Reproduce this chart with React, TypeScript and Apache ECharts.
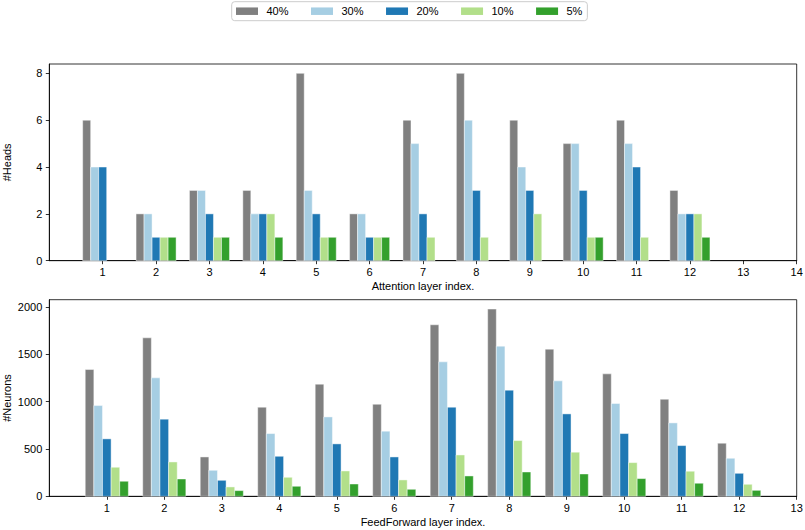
import React, { useEffect, useRef } from "react";
import * as echarts from "echarts";

const seriesNames = ["40%", "30%", "20%", "10%", "5%"];
const seriesColors = ["#808080", "#a6cee3", "#1f78b4", "#b2df8a", "#33a02c"];

const attentionLayers = [1, 2, 3, 4, 5, 6, 7, 8, 9, 10, 11, 12];
const attentionTicks = [1, 2, 3, 4, 5, 6, 7, 8, 9, 10, 11, 12, 13, 14];
const headsTicks = [0, 2, 4, 6, 8];
const heads40 = [6, 2, 3, 3, 8, 2, 6, 8, 6, 5, 6, 3];
const heads30 = [4, 2, 3, 2, 3, 2, 5, 6, 4, 5, 5, 2];
const heads20 = [4, 1, 2, 2, 2, 1, 2, 3, 3, 3, 4, 2];
const heads10 = [0, 1, 1, 2, 1, 1, 1, 1, 2, 1, 1, 2];
const heads5 = [0, 1, 1, 1, 1, 1, 0, 0, 0, 1, 0, 1];

const ffnLayers = [1, 2, 3, 4, 5, 6, 7, 8, 9, 10, 11, 12];
const ffnTicks = [1, 2, 3, 4, 5, 6, 7, 8, 9, 10, 11, 12, 13];
const neuronsTicks = [0, 500, 1000, 1500, 2000];
const neurons40 = [1340, 1675, 416, 942, 1185, 973, 1813, 1979, 1555, 1294, 1026, 561];
const neurons30 = [959, 1252, 275, 663, 839, 688, 1421, 1587, 1220, 981, 776, 402];
const neurons20 = [607, 815, 169, 423, 554, 416, 942, 1122, 871, 663, 536, 243];
const neurons10 = [307, 363, 99, 201, 268, 173, 437, 589, 466, 356, 265, 127];
const neurons5 = [159, 183, 60, 106, 130, 74, 215, 257, 236, 187, 138, 63];

const FONT = "'Liberation Sans', Arial, Helvetica, sans-serif";
const BAR_W = 0.15;

function makeSeries(
  layers: number[],
  values: number[][],
  gridIdx: number
): any[] {
  return values.map((vals, si) => {
    const offset = (si - (values.length - 1) / 2) * BAR_W;
    return {
      type: "custom",
      name: seriesNames[si],
      xAxisIndex: gridIdx,
      yAxisIndex: gridIdx,
      itemStyle: { color: seriesColors[si] },
      data: layers.map((l, i) => [l, vals[i]]),
      renderItem: (params: any, api: any) => {
        const x = api.value(0) + offset;
        const y = api.value(1);
        if (!y) return null;
        const p0 = api.coord([x - BAR_W / 2, y]);
        const p1 = api.coord([x + BAR_W / 2, 0]);
        return {
          type: "rect",
          shape: { x: p0[0], y: p0[1], width: p1[0] - p0[0], height: p1[1] - p0[1] },
          style: { fill: seriesColors[si], stroke: "rgba(255,255,255,0.75)", lineWidth: 0.6 },
        };
      },
    };
  });
}

const plainLabel = (v: number) => String(v);

function xAxisOpt(gridIndex: number, max: number, ticks: number[], name: string) {
  return {
    type: "value",
    gridIndex,
    min: 0,
    max,
    name,
    nameLocation: "middle",
    nameGap: 20,
    nameMoveOverlap: false,
    nameTextStyle: { fontSize: 11, color: "#000", fontFamily: FONT },
    axisLine: { show: true, lineStyle: { color: "#000", width: 0.8 } },
    axisTick: { show: true, length: 3.5, lineStyle: { color: "#000", width: 0.8 }, customValues: ticks },
    axisLabel: {
      fontSize: 11,
      color: "#000",
      fontFamily: FONT,
      margin: 6,
      customValues: ticks,
      formatter: plainLabel,
    },
    splitLine: { show: false },
  };
}

function yAxisOpt(gridIndex: number, max: number, ticks: number[], name: string) {
  return {
    type: "value",
    gridIndex,
    min: 0,
    max,
    name,
    nameLocation: "middle",
    nameGap: 37,
    nameMoveOverlap: false,
    nameTextStyle: { fontSize: 11, color: "#000", fontFamily: FONT },
    axisLine: { show: true, lineStyle: { color: "#000", width: 0.8 } },
    axisTick: { show: true, length: 3.5, lineStyle: { color: "#000", width: 0.8 }, customValues: ticks },
    axisLabel: {
      fontSize: 11,
      color: "#000",
      fontFamily: FONT,
      margin: 7,
      customValues: ticks,
      formatter: plainLabel,
    },
    splitLine: { show: false },
  };
}

export default function App() {
  const ref = useRef<HTMLDivElement>(null);
  useEffect(() => {
    if (!ref.current) return;
    const chart = echarts.init(ref.current, undefined, { renderer: "svg" });
    const headsMax = Math.max(...heads40, ...heads30, ...heads20, ...heads10, ...heads5) * 1.05;
    const neuronsMax =
      Math.max(...neurons40, ...neurons30, ...neurons20, ...neurons10, ...neurons5) * 1.05;
    chart.setOption({
      animation: false,
      backgroundColor: "#fff",
      textStyle: { fontFamily: FONT },
      legend: {
        data: seriesNames,
        left: 231.7,
        top: 1.7,
        icon: "rect",
        itemWidth: 22,
        itemHeight: 7.5,
        itemGap: 22.6,
        padding: [4, 5, 4, 4.3],
        borderColor: "#cccccc",
        borderWidth: 1,
        borderRadius: 3,
        textStyle: { fontSize: 11, color: "#000", fontFamily: FONT, padding: [0, 0, 0, 3.4] },
        selectedMode: false,
      },
      grid: [
        {
          left: 49.3,
          top: 64,
          width: 747.4,
          height: 196.7,
          show: true,
          borderColor: "#000",
          borderWidth: 0.8,
          backgroundColor: "transparent",
          containLabel: false,
          outerBoundsMode: "none",
        },
        {
          left: 49.3,
          top: 299.7,
          width: 747.4,
          height: 196.6,
          show: true,
          borderColor: "#000",
          borderWidth: 0.8,
          backgroundColor: "transparent",
          containLabel: false,
          outerBoundsMode: "none",
        },
      ],
      xAxis: [
        xAxisOpt(0, 14, attentionTicks, "Attention layer index."),
        xAxisOpt(1, 13, ffnTicks, "FeedForward layer index."),
      ],
      yAxis: [
        yAxisOpt(0, headsMax, headsTicks, "#Heads"),
        yAxisOpt(1, neuronsMax, neuronsTicks, "#Neurons"),
      ],
      series: [
        ...makeSeries(attentionLayers, [heads40, heads30, heads20, heads10, heads5], 0),
        ...makeSeries(ffnLayers, [neurons40, neurons30, neurons20, neurons10, neurons5], 1),
      ],
    });
    return () => chart.dispose();
  }, []);
  return (
    <div
      ref={ref}
      style={{ position: "absolute", left: 0, top: 0, width: 805, height: 530, background: "#fff" }}
    />
  );
}
